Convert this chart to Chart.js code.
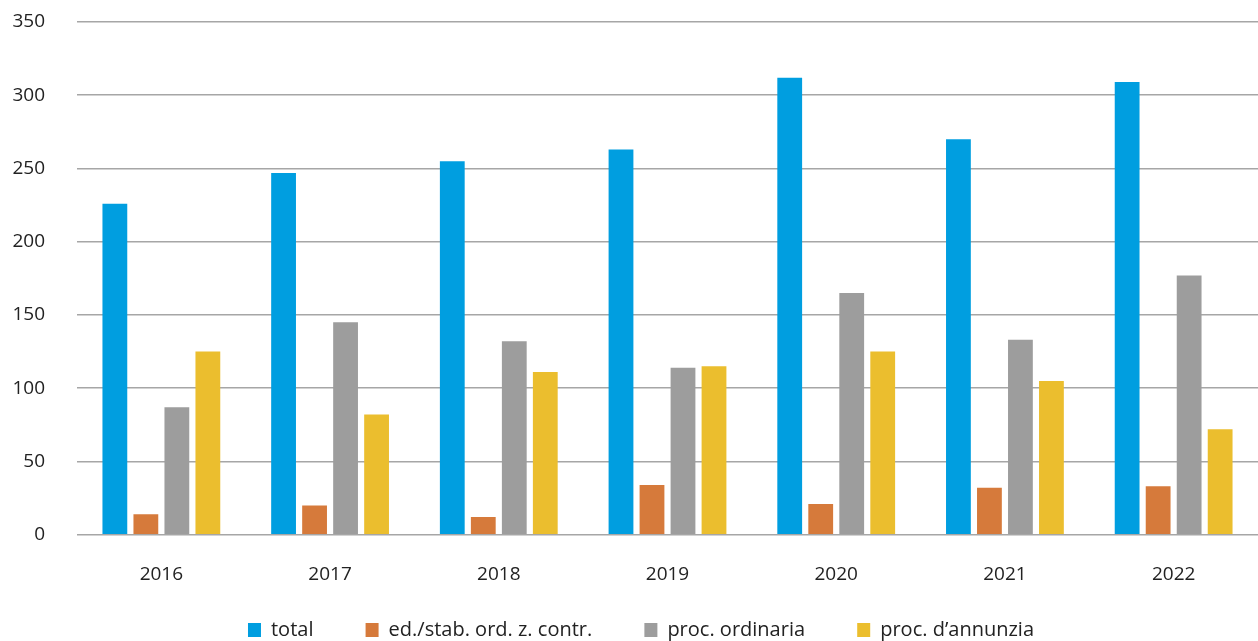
<!DOCTYPE html>
<html>
<head>
<meta charset="utf-8">
<script src="https://cdn.jsdelivr.net/npm/chart.js@4"></script>
<style>
  html, body { margin: 0; padding: 0; background: #fff; }
  #wrap { width: 1258px; height: 641px; }
</style>
</head>
<body>
<div id="wrap"><canvas id="chart" width="1258" height="641"></canvas></div>
<script>
// categorie (anni)
const years = ['2016', '2017', '2018', '2019', '2020', '2021', '2022'];

// valori
const total      = [226, 247, 255, 263, 312, 270, 309];
const edStab     = [14, 20, 12, 34, 21, 32, 33];
const procOrd    = [87, 145, 132, 114, 165, 133, 177];
const procAnn    = [125, 82, 111, 115, 125, 105, 72];

const seriesNames = ['total', 'ed./stab. ord. z. contr.', 'proc. ordinaria', 'proc. d\u2019annunzia'];
const yTicks = [0, 50, 100, 150, 200, 250, 300, 350];

const colors = ['#009EE0', '#D67A3B', '#9D9D9D', '#EBBE2E'];
const font = "'Open Sans', Lato, sans-serif";

// spazio tra le voci della legenda (ultimo elemento senza spazio finale)
const legendGap = '\u2002\u2002\u2002\u2002\u2009\u2009';

// sposta la legenda come nell'originale
const legendShift = {
  id: 'legendShift',
  afterLayout(chart) {
    const lg = chart.legend;
    lg.left += 12;
    lg.right += 12;
    lg.top += 9;
    lg.bottom += 9;
  }
};

const ctx = document.getElementById('chart').getContext('2d');
new Chart(ctx, {
  type: 'bar',
  data: {
    labels: years,
    datasets: [total, edStab, procOrd, procAnn].map((d, i) => ({
      label: seriesNames[i],
      data: d,
      backgroundColor: colors[i],
      borderWidth: 0,
      categoryPercentage: 0.735,
      barPercentage: 0.8
    }))
  },
  plugins: [legendShift],
  options: {
    responsive: false,
    animation: false,
    layout: { padding: 0 },
    plugins: {
      tooltip: { enabled: false },
      legend: {
        position: 'bottom',
        labels: {
          boxWidth: 13,
          boxHeight: 14,
          padding: 5.5,
          color: '#222',
          font: { family: font, size: 20 },
          generateLabels(chart) {
            const items = Chart.defaults.plugins.legend.labels.generateLabels(chart);
            items.forEach((it, i) => {
              if (i < items.length - 1) it.text = it.text + legendGap;
            });
            return items;
          }
        }
      }
    },
    scales: {
      x: {
        grid: { display: false },
        border: { display: false },
        ticks: {
          color: '#222',
          padding: 20,
          font: { family: font, size: 19 }
        }
      },
      y: {
        min: 0,
        max: 350,
        afterBuildTicks: scale => { scale.ticks = yTicks.map(v => ({ value: v })); },
        afterFit: scale => {
          scale.width = 77;
          scale.paddingTop = 22;
          scale.paddingBottom = 10;
        },
        border: { display: false },
        grid: {
          color: '#a6a6a6',
          lineWidth: 1.6,
          drawTicks: false
        },
        ticks: {
          color: '#222',
          padding: 32,
          font: { family: font, size: 19 }
        }
      }
    }
  }
});
</script>
</body>
</html>
